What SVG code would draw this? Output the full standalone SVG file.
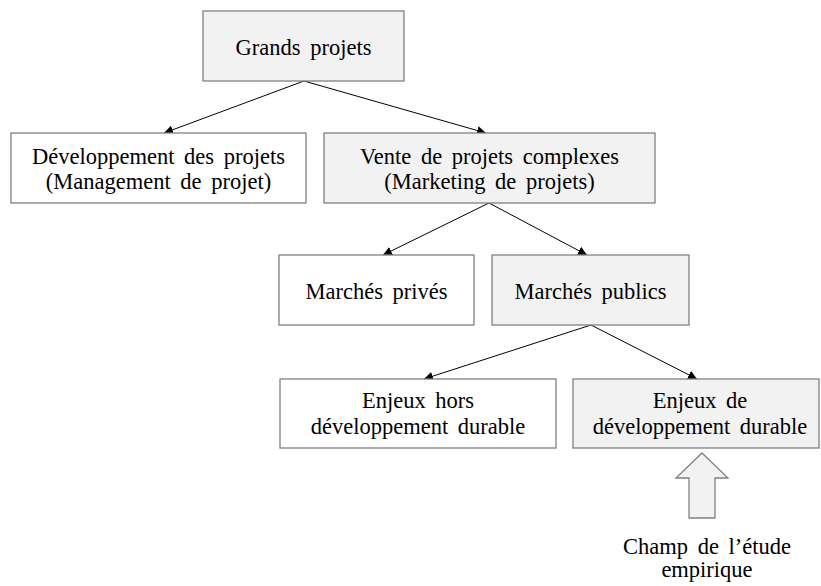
<svg xmlns="http://www.w3.org/2000/svg" width="821" height="586" viewBox="0 0 821 586">
<defs>
<style>
.box{stroke:#808080;stroke-width:1.3}
.g{fill:#f2f2f2}
.w{fill:#ffffff}
text{font-family:"Liberation Serif","Times New Roman",serif;font-size:22.5px;fill:#000;text-anchor:middle;word-spacing:4px}
.con{stroke:#000;stroke-width:1;fill:none;marker-end:url(#ah)}
</style>
<marker id="ah" viewBox="0 0 10 10" refX="10" refY="5" markerWidth="9" markerHeight="9" markerUnits="userSpaceOnUse" orient="auto">
<path d="M0,0 L10,5 L0,10 z" fill="#000"/>
</marker>
</defs>
<rect width="821" height="586" fill="#fff"/>
<g id="connectors">
<line class="con" x1="304" y1="81" x2="164" y2="133"/>
<line class="con" x1="304" y1="81" x2="486" y2="133"/>
<line class="con" x1="489" y1="203" x2="383" y2="255"/>
<line class="con" x1="489" y1="203" x2="587" y2="255"/>
<line class="con" x1="591" y1="325" x2="424" y2="379"/>
<line class="con" x1="591" y1="325" x2="697" y2="379"/>
</g>
<g id="n1"><rect class="box g" x="203" y="11" width="201" height="70"/><text x="303.5" y="55">Grands projets</text></g>
<g id="n2"><rect class="box w" x="11" y="133" width="295" height="70"/><text x="158.5" y="164">Développement des projets</text><text x="158.5" y="189">(Management de projet)</text></g>
<g id="n3"><rect class="box g" x="324" y="133" width="331" height="70"/><text x="489.5" y="164">Vente de projets complexes</text><text x="489.5" y="189">(Marketing de projets)</text></g>
<g id="n4"><rect class="box w" x="279" y="255" width="195" height="70"/><text x="376.5" y="299">Marchés privés</text></g>
<g id="n5"><rect class="box g" x="492" y="255" width="197" height="70"/><text x="590.5" y="299">Marchés publics</text></g>
<g id="n6"><rect class="box w" x="280" y="379" width="276" height="69"/><text x="418" y="408">Enjeux hors</text><text x="418" y="434">développement durable</text></g>
<g id="n7"><rect class="box g" x="573" y="379" width="246" height="69"/><text x="700" y="408">Enjeux de</text><text x="700" y="434">développement durable</text></g>
<g id="n8"><path class="box g" d="M702,453 L728,478 L715,478 L715,518 L689,518 L689,478 L676,478 Z"/><text x="707" y="554">Champ de l’étude</text><text x="707" y="577">empirique</text></g>
</svg>
